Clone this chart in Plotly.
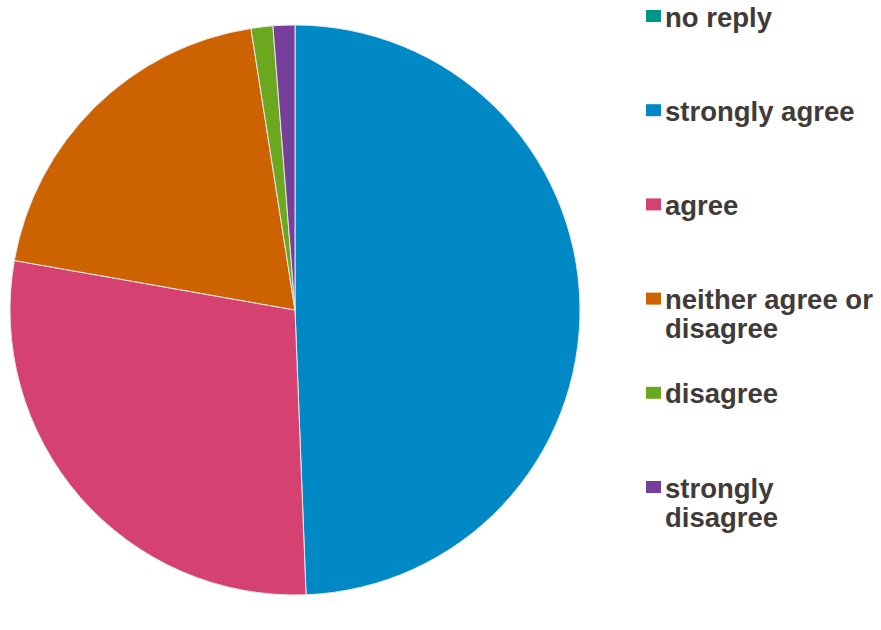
import plotly.graph_objects as go

labels = ["no reply", "strongly agree", "agree", "neither agree or disagree", "disagree", "strongly disagree"]
values = [0, 40, 23, 16, 1, 1]
colors = ["#00968A", "#0089C5", "#D54272", "#CC6200", "#6BA81F", "#773E9B"]
legend_lines = [["no reply"], ["strongly agree"], ["agree"], ["neither agree or", "disagree"], ["disagree"], ["strongly", "disagree"]]

W, H = 881, 630

fig = go.Figure(go.Pie(
    labels=labels, values=values, sort=False, direction="clockwise", rotation=0,
    marker=dict(colors=colors, line=dict(color="#E8E8E8", width=1)),
    textinfo="none", hoverinfo="label+value+percent", showlegend=False,
    domain=dict(x=[10 / W, 580 / W], y=[35 / H, 605 / H]),
))

font = dict(family="Liberation Sans, Arial, sans-serif", size=27.5, color="#403B39")
top_px = 16
step_px = 94.2
line_px = 29
for i, (lab, col) in enumerate(zip(labels, colors)):
    cy = top_px + i * step_px
    fig.add_shape(type="rect", xref="paper", yref="paper",
                  x0=646 / W, x1=661 / W, y0=1 - (cy - 6) / H, y1=1 - (cy + 6) / H,
                  fillcolor=col, line=dict(width=0))
    for j, t in enumerate(legend_lines[i]):
        fig.add_annotation(xref="paper", yref="paper", x=664 / W, y=1 - (cy + 1 + j * line_px) / H,
                           xanchor="left", yanchor="middle", showarrow=False,
                           text="<b>" + t + "</b>", font=font, borderpad=0)

fig.update_layout(width=W, height=H, margin=dict(l=0, r=0, t=0, b=0),
                  paper_bgcolor="white", plot_bgcolor="white")
fig.write_html("out.html", config={"displayModeBar": False},
               post_script="document.body.style.margin='0';document.body.style.overflow='hidden';")
